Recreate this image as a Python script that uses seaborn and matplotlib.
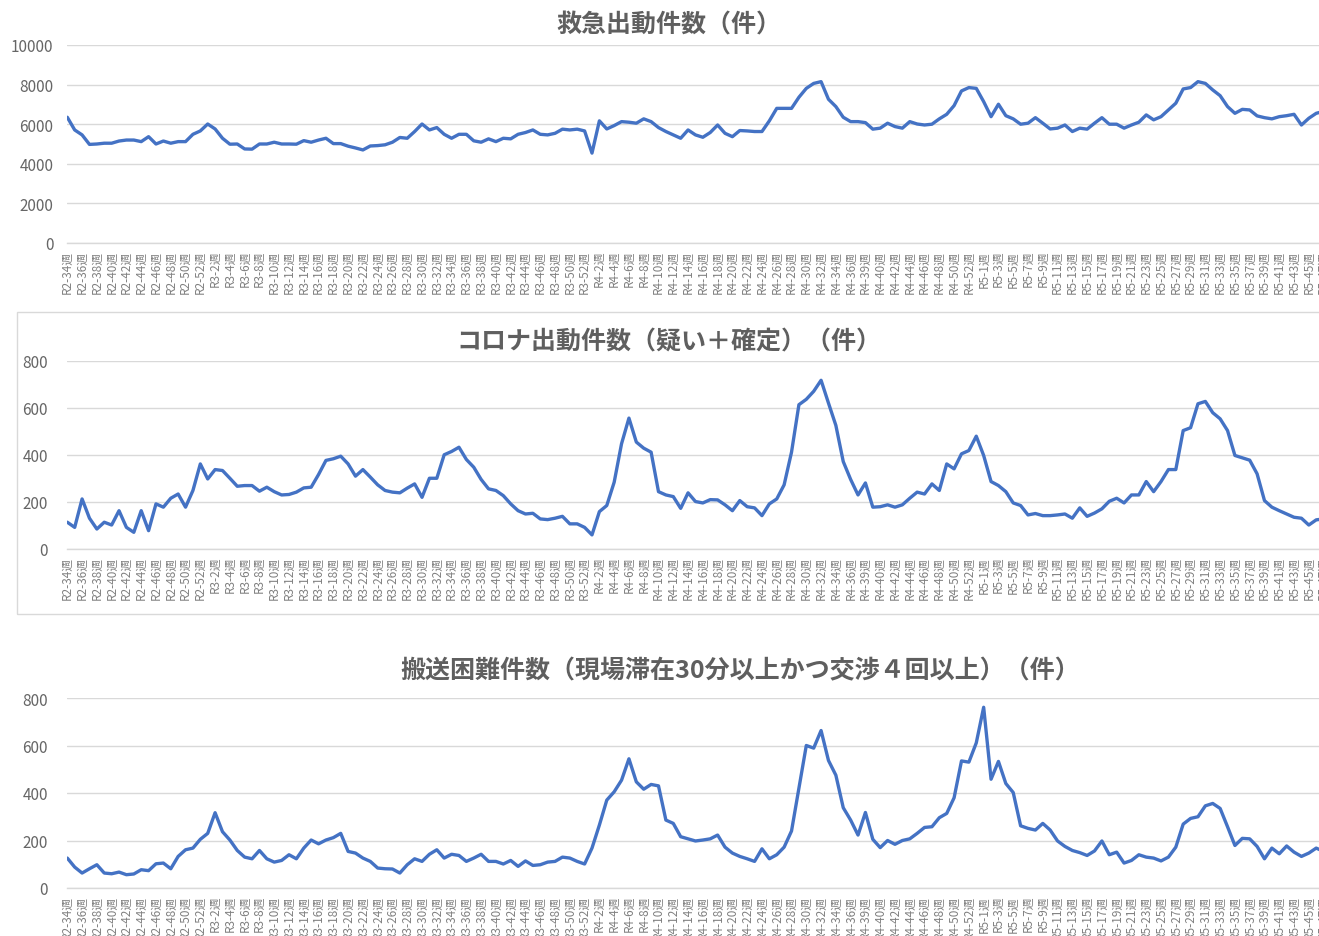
import matplotlib
matplotlib.use("Agg")
import matplotlib.pyplot as plt
import seaborn as sns
import pandas as pd
from matplotlib.patches import Rectangle

# 週ラベル (R2-34週 〜 R5-47週)
week_labels = ([f"R2-{w}週" for w in range(34, 53)] + ["R3-1週"]
               + [f"R3-{w}週" for w in range(2, 53)]
               + [f"R4-{w}週" for w in range(1, 38)] + ["R4-39週", "R4-39週"]
               + [f"R4-{w}週" for w in range(40, 54)]
               + [f"R5-{w}週" for w in range(1, 48)])

# 救急出動件数
kyukyu = [6350, 5710, 5460, 4980, 5000, 5040, 5040, 5150, 5200, 5200,
          5120, 5370, 5000, 5150, 5040, 5120, 5120, 5490, 5660, 6010,
          5760, 5290, 4990, 5000, 4750, 4740, 5000, 5000, 5090, 5000,
          5000, 4990, 5170, 5090, 5200, 5290, 5020, 5020, 4890, 4800,
          4700, 4900, 4920, 4960, 5090, 5330, 5290, 5630, 6010, 5710,
          5830, 5490, 5290, 5490, 5490, 5160, 5090, 5260, 5120, 5290,
          5260, 5490, 5580, 5710, 5490, 5460, 5540, 5750, 5710, 5750,
          5660, 4540, 6170, 5760, 5930, 6130, 6100, 6050, 6270, 6130,
          5830, 5630, 5460, 5290, 5710, 5460, 5340, 5580, 5960, 5540,
          5370, 5680, 5660, 5630, 5630, 6170, 6800, 6800, 6800, 7360,
          7810, 8060, 8150, 7260, 6890, 6350, 6130, 6130, 6080, 5750,
          5800, 6050, 5880, 5800, 6130, 6010, 5960, 6000, 6270, 6500,
          6940, 7680, 7850, 7810, 7140, 6380, 7010, 6430, 6270, 6000,
          6050, 6330, 6050, 5760, 5800, 5960, 5630, 5800, 5750, 6050,
          6330, 6000, 6000, 5800, 5960, 6100, 6470, 6220, 6380, 6720,
          7060, 7780, 7850, 8150, 8060, 7730, 7440, 6890, 6550, 6750,
          6720, 6420, 6330, 6270, 6380, 6430, 6500, 5960, 6300, 6550,
          6650]

# コロナ出動件数（疑い＋確定）
corona = [114, 92, 213, 131, 85, 114, 102, 163, 92, 71,
          163, 78, 192, 178, 216, 234, 178, 249, 362, 298,
          338, 334, 301, 267, 270, 270, 246, 263, 244, 230,
          232, 242, 260, 263, 317, 377, 384, 395, 362, 310,
          338, 306, 273, 249, 242, 239, 259, 277, 220, 301,
          301, 401, 415, 433, 381, 348, 296, 256, 249, 227,
          192, 163, 149, 152, 128, 125, 131, 139, 107, 107,
          92, 60, 159, 185, 284, 448, 557, 455, 429, 412,
          244, 230, 223, 173, 239, 202, 196, 210, 209, 188,
          163, 206, 180, 175, 142, 192, 213, 273, 412, 614,
          637, 671, 718, 621, 526, 372, 296, 230, 281, 178,
          180, 188, 178, 188, 216, 242, 234, 277, 249, 362,
          341, 405, 419, 480, 398, 287, 270, 244, 196, 185,
          145, 151, 142, 142, 145, 149, 131, 175, 139, 153,
          171, 203, 216, 196, 230, 230, 287, 244, 287, 338,
          338, 504, 516, 618, 628, 580, 554, 504, 398, 388,
          378, 320, 206, 178, 163, 149, 135, 131, 102, 124,
          128]

# 搬送困難件数
konnan = [126, 88, 63, 81, 98, 63, 60, 67, 56, 59,
          77, 73, 102, 105, 81, 133, 161, 168, 205, 230,
          317, 237, 202, 158, 130, 123, 158, 123, 109, 116,
          140, 123, 168, 202, 186, 202, 212, 230, 154, 147,
          126, 112, 84, 81, 80, 63, 98, 123, 112, 142,
          161, 126, 142, 137, 112, 126, 142, 112, 112, 101,
          116, 91, 114, 95, 98, 109, 112, 130, 126, 112,
          101, 168, 265, 370, 405, 454, 544, 447, 416, 436,
          430, 286, 272, 216, 207, 198, 202, 207, 223, 172,
          147, 133, 123, 112, 165, 123, 140, 172, 240, 419,
          600, 589, 663, 537, 475, 338, 286, 223, 318, 205,
          170, 200, 184, 200, 207, 230, 255, 258, 296, 314,
          380, 535, 530, 611, 761, 458, 533, 440, 402, 262,
          251, 244, 272, 244, 198, 175, 158, 149, 137, 156,
          198, 140, 151, 105, 116, 140, 130, 126, 114, 130,
          172, 269, 293, 300, 346, 356, 335, 258, 179, 209,
          207, 175, 123, 168, 144, 177, 151, 133, 147, 168,
          154]

titles = ["救急出動件数（件）",
          "コロナ出動件数（疑い＋確定）（件）",
          "搬送困難件数（現場滞在30分以上かつ交渉４回以上）（件）"]

sns.set_theme(style="white")
plt.rcParams["font.family"] = ["Noto Sans CJK JP", "DejaVu Sans"]

W, H = 1319, 937
fig = plt.figure(figsize=(W / 100, H / 100), dpi=100)

n = len(week_labels)
x_left = 67.3
x_right = x_left + 7.39 * (n - 1)
grid_c = "#d9d9d9"
text_c = "#5f5f5f"

# (データ, y上限, 目盛間隔, 上端px, 下端px, タイトル中心x, タイトル中心y, 目盛pad)
panels = [
    (kyukyu, 10000, 2000, 46, 244, 669, 25, 10),
    (corona, 800, 200, 362, 550, 669, 342, 14),
    (konnan, 800, 200, 699, 889, 740, 671, 14),
]

# コロナ出動件数グラフの枠
fig.add_artist(Rectangle((17 / W, 1 - 615 / H), (1335 - 17) / W, (615 - 313) / H,
                         transform=fig.transFigure, fill=False,
                         edgecolor=grid_c, linewidth=1))

for (vals, ymax, step, top, bottom, tx, ty, pad), title in zip(panels, titles):
    ax = fig.add_axes([x_left / W, 1 - bottom / H,
                       (x_right - x_left) / W, (bottom - top) / H])
    df = pd.DataFrame({"週": range(n), "件数": vals})
    sns.lineplot(data=df, x="週", y="件数", ax=ax, color="#4472C4", linewidth=2.4)

    ax.set_xlim(0, n - 1)
    ax.set_ylim(0, ymax)
    ax.set_yticks(range(0, ymax + 1, step))
    ax.set_xticks(range(n))
    ax.set_xticklabels([lab if i % 2 == 0 else "" for i, lab in enumerate(week_labels)],
                       rotation=90, fontsize=8.5, color="#808080")
    ax.set_xlabel("")
    ax.set_ylabel("")
    ax.yaxis.grid(True, color=grid_c, linewidth=1)
    ax.tick_params(axis="y", length=0, pad=pad, labelsize=11, labelcolor="#666666")
    ax.tick_params(axis="x", length=3, width=0.8, color=grid_c, pad=2, direction="out")
    for side in ["left", "top", "right"]:
        ax.spines[side].set_visible(False)
    ax.spines["bottom"].set_color(grid_c)
    ax.spines["bottom"].set_linewidth(1)

    fig.text(tx / W, 1 - ty / H, title, ha="center", va="center",
             fontsize=18, fontweight="bold", color=text_c)

fig.savefig("out.png", dpi=100)
